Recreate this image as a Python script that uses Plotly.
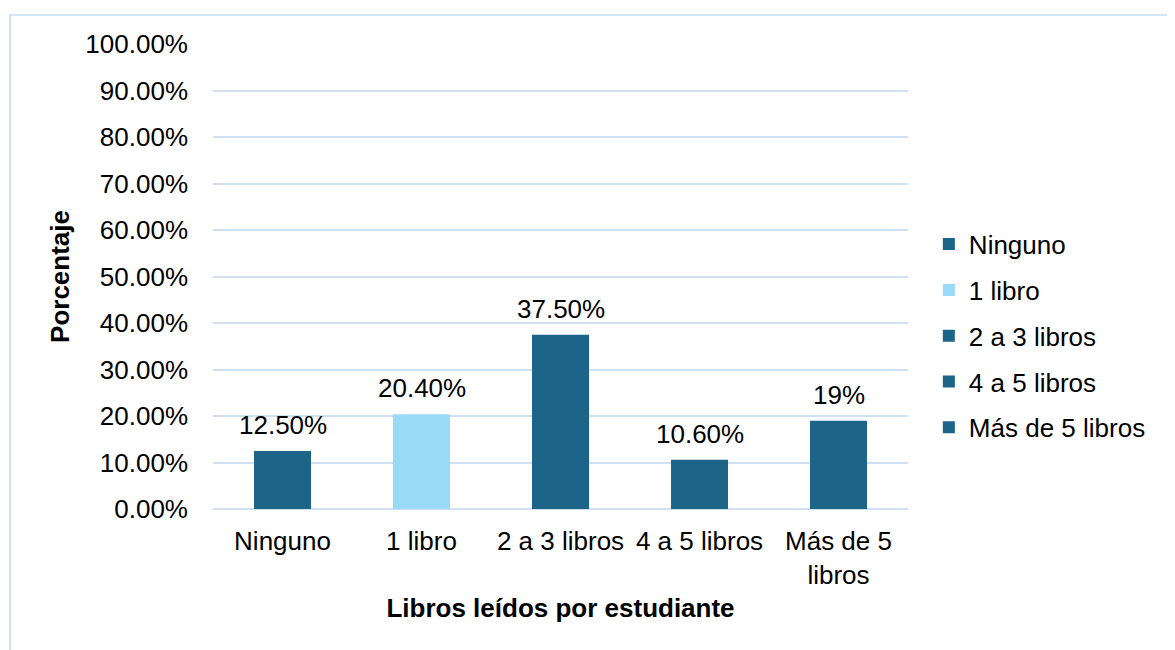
import plotly.graph_objects as go

categories = ["Ninguno", "1 libro", "2 a 3 libros", "4 a 5 libros", "Más de 5 libros"]
tick_labels = ["Ninguno", "1 libro", "2 a 3 libros", "4 a 5 libros", "Más de 5<br>libros"]
values = [0.125, 0.204, 0.375, 0.106, 0.19]
value_labels = ["12.50%", "20.40%", "37.50%", "10.60%", "19%"]
colors = ["#1d6588", "#99daf7", "#1d6588", "#1d6588", "#1d6588"]
y_ticks = [i / 10 for i in range(11)]

FONT = "Liberation Sans, Arial, sans-serif"
FS = 26

fig = go.Figure()
for i, cat in enumerate(categories):
    fig.add_trace(go.Bar(
        x=[tick_labels[i]], y=[values[i]], name=cat,
        marker=dict(color=colors[i], line=dict(width=0)),
        width=0.41, legendgroup=cat,
    ))
    fig.add_annotation(
        x=tick_labels[i], y=values[i], text=value_labels[i],
        showarrow=False, yanchor="bottom", yshift=9,
        font=dict(size=FS, color="#000000", family=FONT),
    )

fig.update_layout(
    width=1175, height=650,
    margin=dict(l=205, r=275, t=36, b=149),
    paper_bgcolor="white", plot_bgcolor="white",
    barmode="overlay",
    font=dict(family=FONT, size=FS, color="#000000"),
    showlegend=True,
    legend=dict(x=1.03, xanchor="left", y=0.62, yanchor="top",
                font=dict(size=FS), tracegroupgap=9, traceorder="grouped",
                bgcolor="rgba(0,0,0,0)"),
    xaxis=dict(
        categoryorder="array", categoryarray=tick_labels,
        showgrid=False, showline=False, ticks="", ticklabelstandoff=14,
        tickfont=dict(size=FS),
        title=dict(text="<b>Libros leídos por estudiante</b>", font=dict(size=FS), standoff=10),
    ),
    yaxis=dict(
        range=[0, 1.0], tickvals=y_ticks, tickformat=".2%",
        showgrid=True, gridcolor="#cfe0f3", gridwidth=1.5,
        zeroline=True, zerolinecolor="#cfe0f3", zerolinewidth=1.5,
        showline=False, ticks="", ticklabelstandoff=24,
        tickfont=dict(size=FS),
        title=dict(text="<b>Porcentaje</b>", font=dict(size=FS), standoff=8),
    ),
    shapes=[dict(type="rect", xref="paper", yref="paper",
                 x0=(10 - 213) / 695, x1=1.6, y0=-0.6, y1=1 + (44 - 15) / 465,
                 line=dict(color="#c8dcf2", width=1.5), fillcolor="rgba(0,0,0,0)",
                 layer="below")],
)

fig.write_html("out.html")
